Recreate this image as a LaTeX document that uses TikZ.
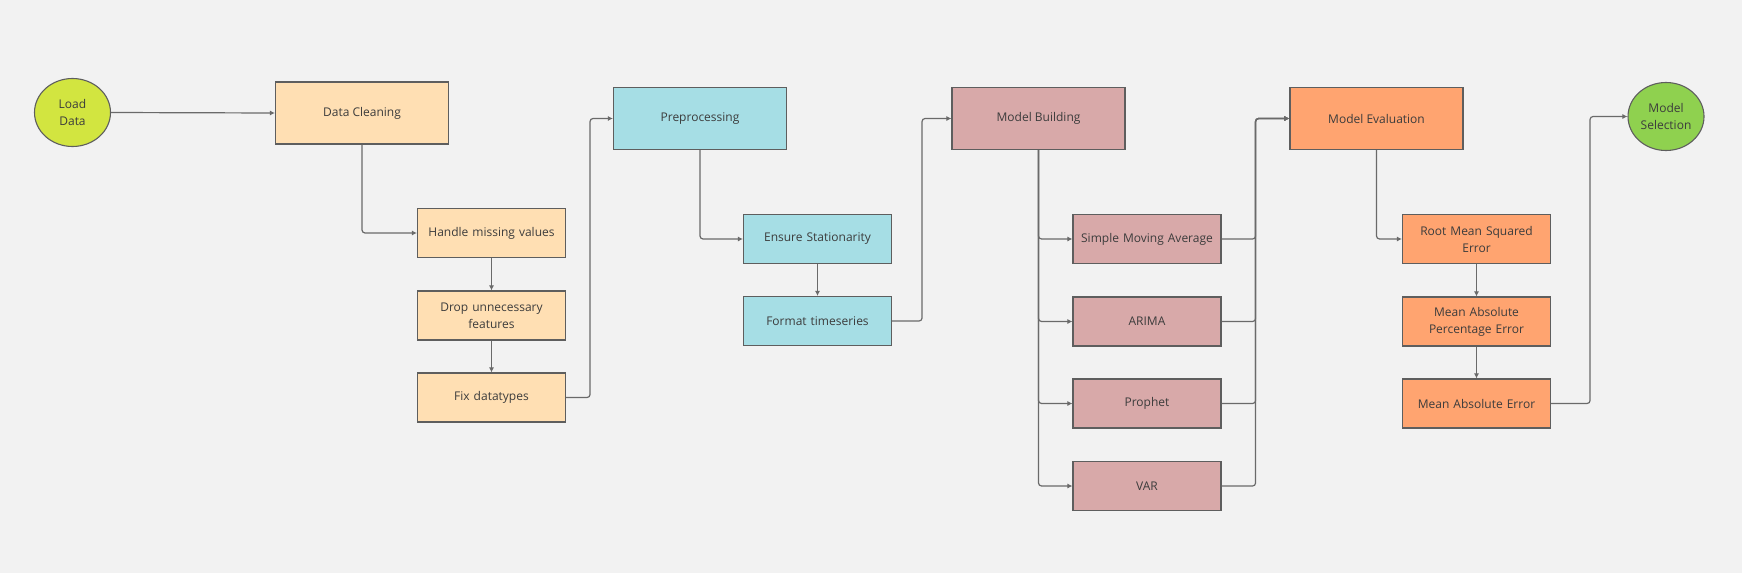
\documentclass[tikz,border=0pt]{standalone}
\usepackage{fontspec}
\setmainfont{Open Sans}
\usetikzlibrary{arrows.meta,shapes.geometric}
\definecolor{bg}{HTML}{F2F2F2}
\definecolor{cLoad}{HTML}{D2E540}
\definecolor{cClean}{HTML}{FFDFB3}
\definecolor{cPre}{HTML}{A6DEE5}
\definecolor{cBuild}{HTML}{D8A9A9}
\definecolor{cEval}{HTML}{FFA470}
\definecolor{cSel}{HTML}{8FD14F}
\definecolor{cBorder}{HTML}{5E5E5E}
\definecolor{cLine}{HTML}{6A6A6A}
\definecolor{cText}{HTML}{3C3C3C}
\tikzset{
  base/.style={draw=cBorder, line width=1.1pt, text=cText, align=center, inner sep=2pt,
    font=\fontsize{12}{17}\selectfont},
  bigbox/.style={base, rectangle, minimum width=173pt, minimum height=62pt},
  smallbox/.style={base, rectangle, minimum width=148pt, minimum height=49pt, text width=142pt},
  term/.style={base, ellipse, minimum width=76pt, minimum height=68pt, inner sep=0pt},
  conn/.style={draw=cLine, line width=1.2pt, rounded corners=3pt, -{Latex[length=5pt,width=5pt]}},
}
\begin{document}
\begin{tikzpicture}[x=1pt,y=-1pt]
\useasboundingbox (0,0) rectangle (1742,573);
\fill[bg] (0,0) rectangle (1742,573);

% nodes
\node[term, fill=cLoad] (ld) at (72.5,112.5) {Load\\Data};
\node[bigbox, fill=cClean] (dc) at (362,113) {Data Cleaning};
\node[smallbox, fill=cClean] (hm) at (491.5,233) {Handle missing values};
\node[smallbox, fill=cClean] (du) at (491.5,315.5) {Drop unnecessary\\features};
\node[smallbox, fill=cClean] (fx) at (491.5,397.5) {Fix datatypes};

\node[bigbox, fill=cPre] (pp) at (700,118.5) {Preprocessing};
\node[smallbox, fill=cPre] (es) at (817.5,239) {Ensure Stationarity};
\node[smallbox, fill=cPre] (ft) at (817.5,321) {Format timeseries};

\node[bigbox, fill=cBuild] (mb) at (1038.5,118.5) {Model Building};
\node[smallbox, fill=cBuild] (sma) at (1147,239) {Simple Moving Average};
\node[smallbox, fill=cBuild] (ar) at (1147,321.5) {ARIMA};
\node[smallbox, fill=cBuild] (pr) at (1147,403.5) {Prophet};
\node[smallbox, fill=cBuild] (var) at (1147,486) {VAR};

\node[bigbox, fill=cEval] (me) at (1376.5,118.5) {Model Evaluation};
\node[smallbox, fill=cEval] (rm) at (1476.5,239) {Root Mean Squared\\Error};
\node[smallbox, fill=cEval] (mp) at (1476.5,321.5) {Mean Absolute\\Percentage Error};
\node[smallbox, fill=cEval] (ma) at (1476.5,403.5) {Mean Absolute Error};

\node[term, fill=cSel] (ms) at (1666,116.5) {Model\\Selection};

% connectors
\draw[conn] (ld.east) -- (dc.west);
\draw[conn] (dc.south) |- (hm.west);
\draw[conn] (hm) -- (du);
\draw[conn] (du) -- (fx);
\draw[conn] (fx.east) -- ([xshift=24pt]fx.east) |- (pp.west);

\draw[conn] (pp.south) |- (es.west);
\draw[conn] (es) -- (ft);
\draw[conn] (ft.east) -- ([xshift=30pt]ft.east) |- (mb.west);

\draw[conn] (mb.south) |- (sma.west);
\draw[conn] (mb.south) |- (ar.west);
\draw[conn] (mb.south) |- (pr.west);
\draw[conn] (mb.south) |- (var.west);

\draw[conn] (sma.east) -- ([xshift=34pt]sma.east) |- (me.west);
\draw[conn] (ar.east) -- ([xshift=34pt]ar.east) |- (me.west);
\draw[conn] (pr.east) -- ([xshift=34pt]pr.east) |- (me.west);
\draw[conn] (var.east) -- ([xshift=34pt]var.east) |- (me.west);

\draw[conn] (me.south) |- (rm.west);
\draw[conn] (rm) -- (mp);
\draw[conn] (mp) -- (ma);
\draw[conn] (ma.east) -- ([xshift=39pt]ma.east) |- (ms.west);
\end{tikzpicture}
\end{document}
